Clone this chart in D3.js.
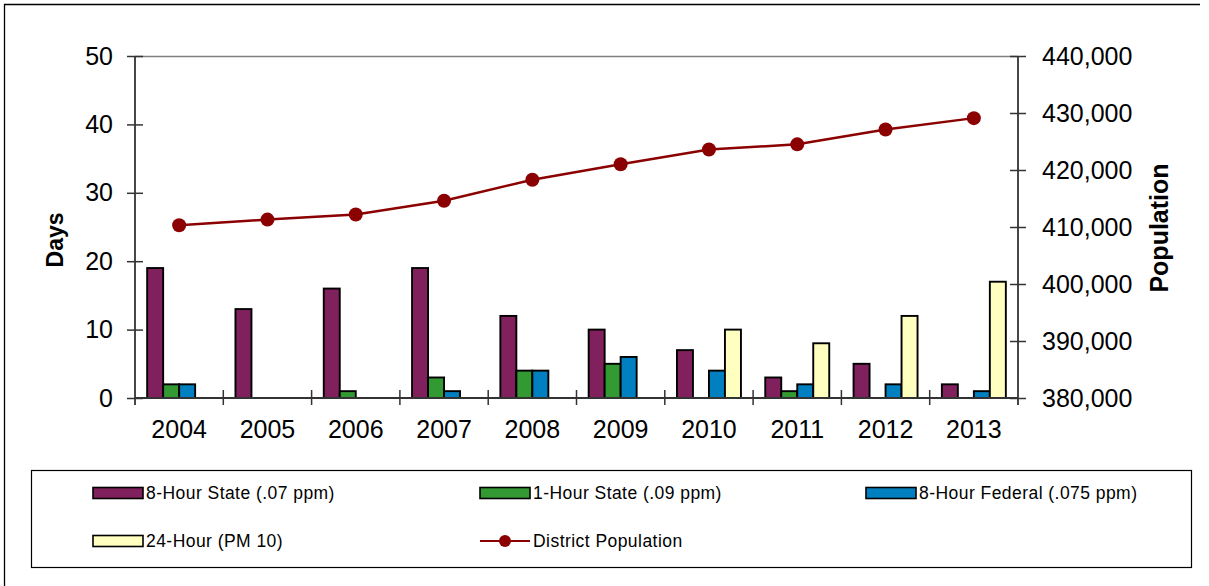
<!DOCTYPE html>
<html>
<head>
<meta charset="utf-8">
<script src="https://cdn.jsdelivr.net/npm/d3@7"></script>
<style>
  html, body { margin: 0; padding: 0; background: #fff; }
  svg { display: block; }
  text { font-family: "Liberation Sans", Arial, sans-serif; fill: #000; }
</style>
</head>
<body>
<svg id="chart" width="1209" height="586"></svg>
<script>
const years = ["2004","2005","2006","2007","2008","2009","2010","2011","2012","2013"];
const state8 = [19, 13, 16, 19, 12, 10, 7, 3, 5, 2];
const state1 = [2, 0, 1, 3, 4, 5, 0, 1, 0, 0];
const federal8 = [2, 0, 0, 1, 4, 6, 4, 2, 2, 1];
const pm10 = [0, 0, 0, 0, 0, 0, 10, 8, 12, 17];
const population = [410300, 411300, 412200, 414600, 418300, 421000, 423600, 424500, 427100, 429100];
const daysTicks = [0, 10, 20, 30, 40, 50];
const popTicks = [380000, 390000, 400000, 410000, 420000, 430000, 440000];

const seriesNames = ["8-Hour State (.07 ppm)", "1-Hour State (.09 ppm)", "8-Hour Federal (.075 ppm)", "24-Hour (PM 10)"];
const seriesColors = ["#80205C", "#339933", "#0080C0", "#FFFFC0"];
const seriesData = [state8, state1, federal8, pm10];
const lineName = "District Population";
const lineColor = "#8B0000";

const svg = d3.select("#chart");
const L = 135, R = 1018, T = 56, B = 398;

// outer border (left + top)
svg.append("path").attr("d", `M4.5,586 V4.5 H1200`).attr("fill","none").attr("stroke","#000").attr("stroke-width",1.3);

const x = d3.scaleBand().domain(years).range([L, R]).paddingInner(0).paddingOuter(0);
const inner = d3.scaleBand().domain(d3.range(4)).range([0, x.bandwidth()]).paddingInner(0).paddingOuter(0.76);
const yL = d3.scaleLinear().domain([0, 50]).range([B, T]);
const yR = d3.scaleLinear().domain([380000, 440000]).range([B, T]);

// top plot border
svg.append("line").attr("x1", L).attr("x2", R).attr("y1", T + 0.5).attr("y2", T + 0.5).attr("stroke", "#808080").attr("stroke-width", 1.5);

// bars
seriesData.forEach((vals, si) => {
  svg.append("g").selectAll("rect").data(years).join("rect")
    .filter((d, i) => vals[i] > 0)
    .attr("x", d => x(d) + inner(si))
    .attr("width", inner.bandwidth())
    .attr("y", (d) => yL(vals[years.indexOf(d)]))
    .attr("height", (d) => B - yL(vals[years.indexOf(d)]))
    .attr("fill", seriesColors[si])
    .attr("stroke", "#000")
    .attr("stroke-width", 1.9);
});

// axes
const axisColor = "#333";
const gL = svg.append("g").attr("transform", `translate(${L},0)`)
  .call(d3.axisLeft(yL).tickValues(daysTicks).tickSize(8).tickPadding(14).tickFormat(d3.format("d")));
gL.selectAll(".tick line").attr("x2", -8).attr("x1", 8);
gL.select(".domain").attr("d", `M0,${T}V${B + 7}`);
const gR = svg.append("g").attr("transform", `translate(${R},0)`)
  .call(d3.axisRight(yR).tickValues(popTicks).tickSize(8).tickPadding(16).tickFormat(d3.format(",")));
gR.selectAll(".tick line").attr("x1", -8).attr("x2", 8);
gR.select(".domain").attr("d", `M0,${T}V${B + 7}`);
const gB = svg.append("g").attr("transform", `translate(0,${B})`)
  .call(d3.axisBottom(x).tickSize(0).tickPadding(22));
gB.select(".domain").attr("d", `M${L},0H${R}`);
gB.selectAll(".tick text").attr("dy", "0.71em");
gB.append("g").selectAll("line").data(years.slice(1)).join("line")
  .attr("x1", d => x(d)).attr("x2", d => x(d)).attr("y1", -8).attr("y2", 7)
  .attr("stroke", axisColor).attr("stroke-width", 1.5);

[gL, gR, gB].forEach(g => {
  g.selectAll(".domain").attr("stroke", axisColor).attr("stroke-width", 1.8);
  g.selectAll(".tick line").attr("stroke", axisColor).attr("stroke-width", 1.5);
  g.selectAll(".tick text").attr("font-size", 25).attr("font-family", '"Liberation Sans", Arial, sans-serif').attr("fill", "#000");
});

// axis titles
svg.append("text").attr("transform", `translate(63,240) rotate(-90)`).attr("text-anchor", "middle")
  .attr("font-size", 23).attr("font-weight", "bold").text("Days");
svg.append("text").attr("transform", `translate(1168,228) rotate(-90)`).attr("text-anchor", "middle")
  .attr("font-size", 25).attr("font-weight", "bold").text("Population");

// population line
const line = d3.line().x((d, i) => x(years[i]) + x.bandwidth() / 2).y(d => yR(d));
svg.append("path").datum(population).attr("d", line).attr("fill", "none").attr("stroke", lineColor).attr("stroke-width", 2.5);
svg.append("g").selectAll("circle").data(population).join("circle")
  .attr("cx", (d, i) => x(years[i]) + x.bandwidth() / 2).attr("cy", d => yR(d)).attr("r", 7)
  .attr("fill", lineColor);

// legend
svg.append("rect").attr("x", 31.5).attr("y", 470.5).attr("width", 1160).attr("height", 97)
  .attr("fill", "#fff").attr("stroke", "#000").attr("stroke-width", 1.2);
const legItems = [
  {name: seriesNames[0], type: "bar", color: seriesColors[0], x: 93, y: 493},
  {name: seriesNames[1], type: "bar", color: seriesColors[1], x: 480, y: 493},
  {name: seriesNames[2], type: "bar", color: seriesColors[2], x: 866, y: 493},
  {name: seriesNames[3], type: "bar", color: seriesColors[3], x: 93, y: 541},
  {name: lineName, type: "line", color: lineColor, x: 480, y: 541}
];
const lg = svg.append("g").selectAll("g").data(legItems).join("g").attr("transform", d => `translate(${d.x},${d.y})`);
lg.filter(d => d.type === "bar").append("rect").attr("x", 0).attr("y", -5.5).attr("width", 50).attr("height", 11)
  .attr("fill", d => d.color).attr("stroke", "#000").attr("stroke-width", 1.6);
lg.filter(d => d.type === "line").append("line").attr("x1", 0).attr("x2", 50).attr("y1", 0).attr("y2", 0)
  .attr("stroke", d => d.color).attr("stroke-width", 2);
lg.filter(d => d.type === "line").append("circle").attr("cx", 25).attr("cy", 0).attr("r", 6).attr("fill", d => d.color);
lg.append("text").attr("x", 53).attr("y", 0).attr("dy", "0.36em").attr("font-size", 17.5)
  .attr("letter-spacing", 0.45).text(d => d.name);
</script>
</body>
</html>
